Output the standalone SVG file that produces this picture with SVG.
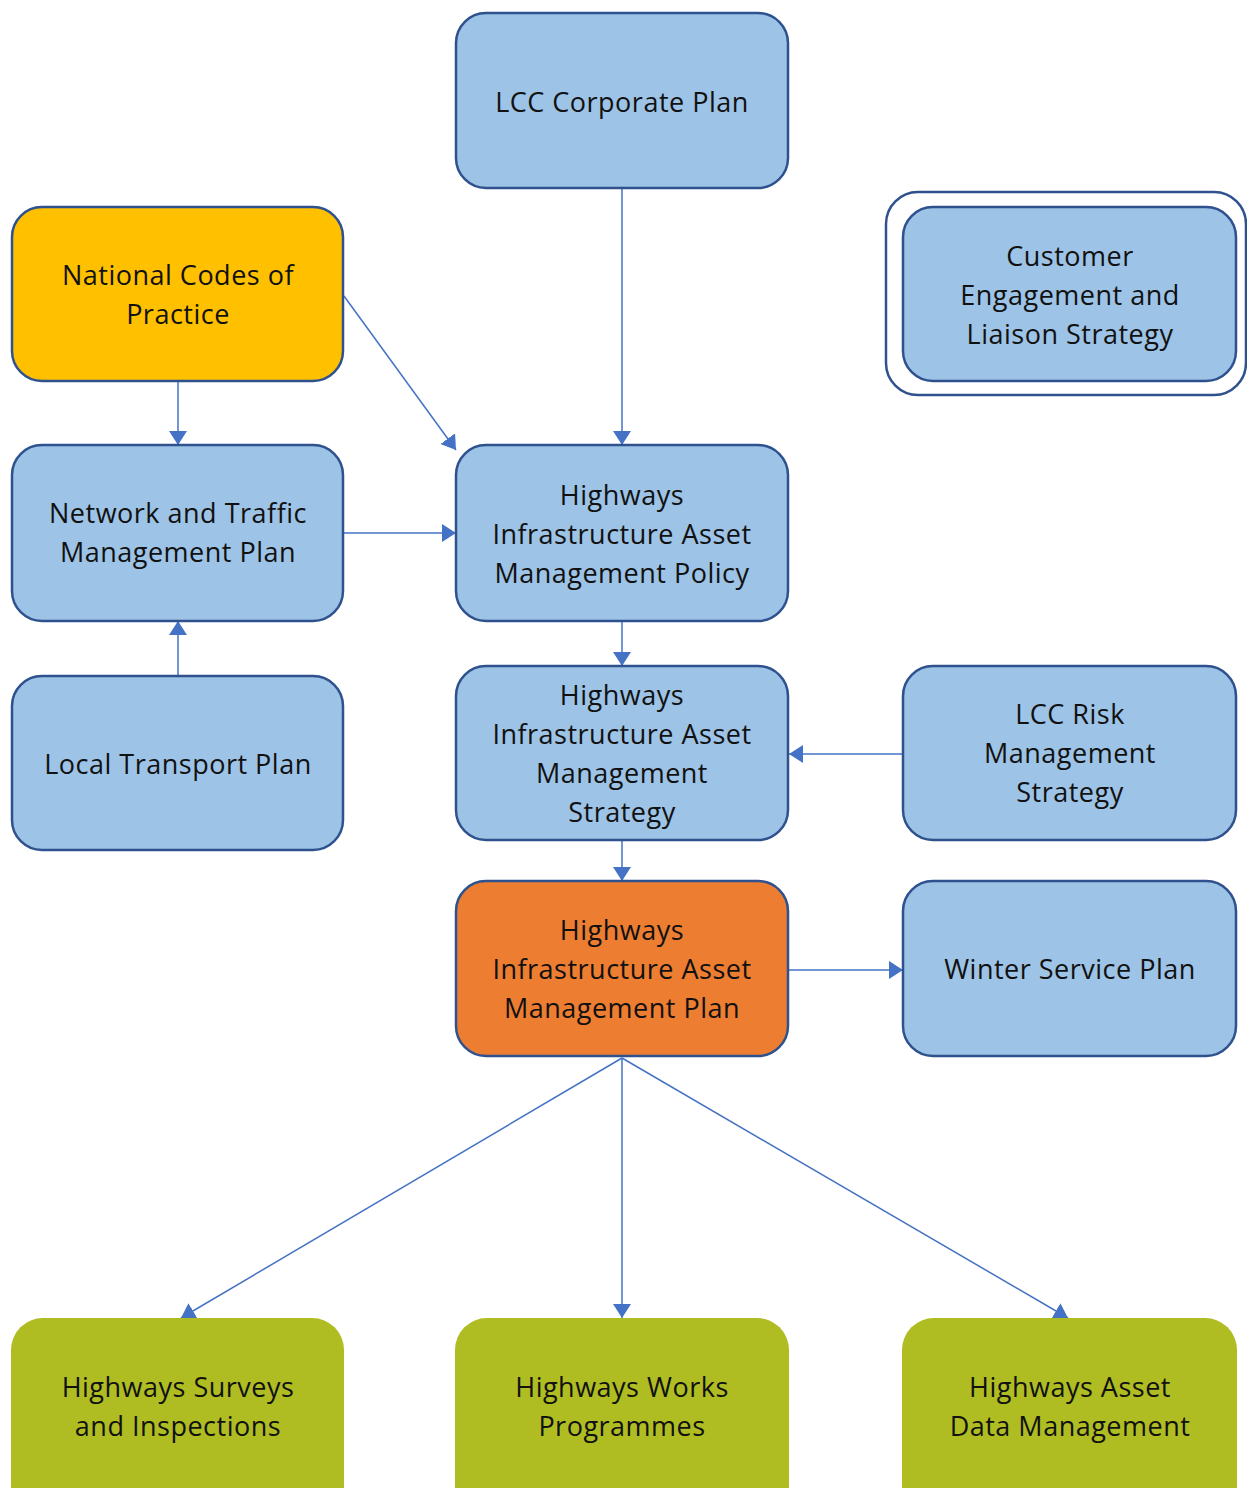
<svg xmlns="http://www.w3.org/2000/svg" width="1247" height="1488" viewBox="0 0 1247 1488">
<defs>
<style>
.box{stroke:#2F528F;stroke-width:2.5}
.blue{fill:#9DC3E6}
.gold{fill:#FFC000}
.orange{fill:#ED7D31}
.green{fill:#AFBD22;stroke:none}
.lbl{font-family:"Open Sans","Liberation Sans",sans-serif;font-size:27px;letter-spacing:0.5px;fill:#111;text-anchor:middle}
.con{stroke:#4472C4;stroke-width:1.5;fill:none;marker-end:url(#ah)}
</style>
<marker id="ah" viewBox="0 0 14 18" refX="14" refY="9" markerWidth="14" markerHeight="18" markerUnits="userSpaceOnUse" orient="auto">
<path d="M0,0 L14,9 L0,18 Z" fill="#4472C4"/>
</marker>
</defs>
<rect width="1247" height="1488" fill="#fff"/>
<g id="connectors">
<line class="con" x1="622" y1="188" x2="622" y2="445"/>
<line class="con" x1="178" y1="381" x2="178" y2="445"/>
<line class="con" x1="344" y1="296" x2="456" y2="450"/>
<line class="con" x1="343" y1="533" x2="456" y2="533"/>
<line class="con" x1="178" y1="676" x2="178" y2="621"/>
<line class="con" x1="622" y1="621" x2="622" y2="666"/>
<line class="con" x1="903" y1="754" x2="789" y2="754"/>
<line class="con" x1="622" y1="840" x2="622" y2="881"/>
<line class="con" x1="788" y1="970" x2="903" y2="970"/>
<line class="con" x1="622" y1="1058" x2="181" y2="1318"/>
<line class="con" x1="622" y1="1058" x2="622" y2="1318"/>
<line class="con" x1="622" y1="1058" x2="1068" y2="1318"/>
</g>
<g id="lcc-corporate-plan">
<rect class="box blue" x="456" y="13" width="332" height="175" rx="30"/>
<text class="lbl" x="622" y="112">LCC Corporate Plan</text>
</g>
<g id="national-codes">
<rect class="box gold" x="12" y="207" width="331" height="174" rx="30"/>
<text class="lbl" x="178" y="285">National Codes of</text>
<text class="lbl" x="178" y="324">Practice</text>
</g>
<g id="customer-engagement">
<rect x="886" y="192" width="360" height="203" rx="32" fill="#fff" stroke="#2F528F" stroke-width="2.5"/>
<rect class="box blue" x="903" y="207" width="333" height="174" rx="30"/>
<text class="lbl" x="1070" y="266">Customer</text>
<text class="lbl" x="1070" y="305">Engagement and</text>
<text class="lbl" x="1070" y="344">Liaison Strategy</text>
</g>
<g id="network-traffic">
<rect class="box blue" x="12" y="445" width="331" height="176" rx="30"/>
<text class="lbl" x="178" y="523">Network and Traffic</text>
<text class="lbl" x="178" y="562">Management Plan</text>
</g>
<g id="hiam-policy">
<rect class="box blue" x="456" y="445" width="332" height="176" rx="30"/>
<text class="lbl" x="622" y="505">Highways</text>
<text class="lbl" x="622" y="544">Infrastructure Asset</text>
<text class="lbl" x="622" y="583">Management Policy</text>
</g>
<g id="local-transport">
<rect class="box blue" x="12" y="676" width="331" height="174" rx="30"/>
<text class="lbl" x="178" y="774">Local Transport Plan</text>
</g>
<g id="hiam-strategy">
<rect class="box blue" x="456" y="666" width="332" height="174" rx="30"/>
<text class="lbl" x="622" y="705">Highways</text>
<text class="lbl" x="622" y="744">Infrastructure Asset</text>
<text class="lbl" x="622" y="783">Management</text>
<text class="lbl" x="622" y="822">Strategy</text>
</g>
<g id="lcc-risk">
<rect class="box blue" x="903" y="666" width="333" height="174" rx="30"/>
<text class="lbl" x="1070" y="724">LCC Risk</text>
<text class="lbl" x="1070" y="763">Management</text>
<text class="lbl" x="1070" y="802">Strategy</text>
</g>
<g id="hiam-plan">
<rect class="box orange" x="456" y="881" width="332" height="175" rx="30"/>
<text class="lbl" x="622" y="940">Highways</text>
<text class="lbl" x="622" y="979">Infrastructure Asset</text>
<text class="lbl" x="622" y="1018">Management Plan</text>
</g>
<g id="winter-service">
<rect class="box blue" x="903" y="881" width="333" height="175" rx="30"/>
<text class="lbl" x="1070" y="979">Winter Service Plan</text>
</g>
<g id="surveys">
<rect class="green" x="11" y="1318" width="333" height="200" rx="32"/>
<text class="lbl" x="178" y="1397">Highways Surveys</text>
<text class="lbl" x="178" y="1436">and Inspections</text>
</g>
<g id="works">
<rect class="green" x="455" y="1318" width="334" height="200" rx="32"/>
<text class="lbl" x="622" y="1397">Highways Works</text>
<text class="lbl" x="622" y="1436">Programmes</text>
</g>
<g id="data-management">
<rect class="green" x="902" y="1318" width="335" height="200" rx="32"/>
<text class="lbl" x="1070" y="1397">Highways Asset</text>
<text class="lbl" x="1070" y="1436">Data Management</text>
</g>
</svg>
